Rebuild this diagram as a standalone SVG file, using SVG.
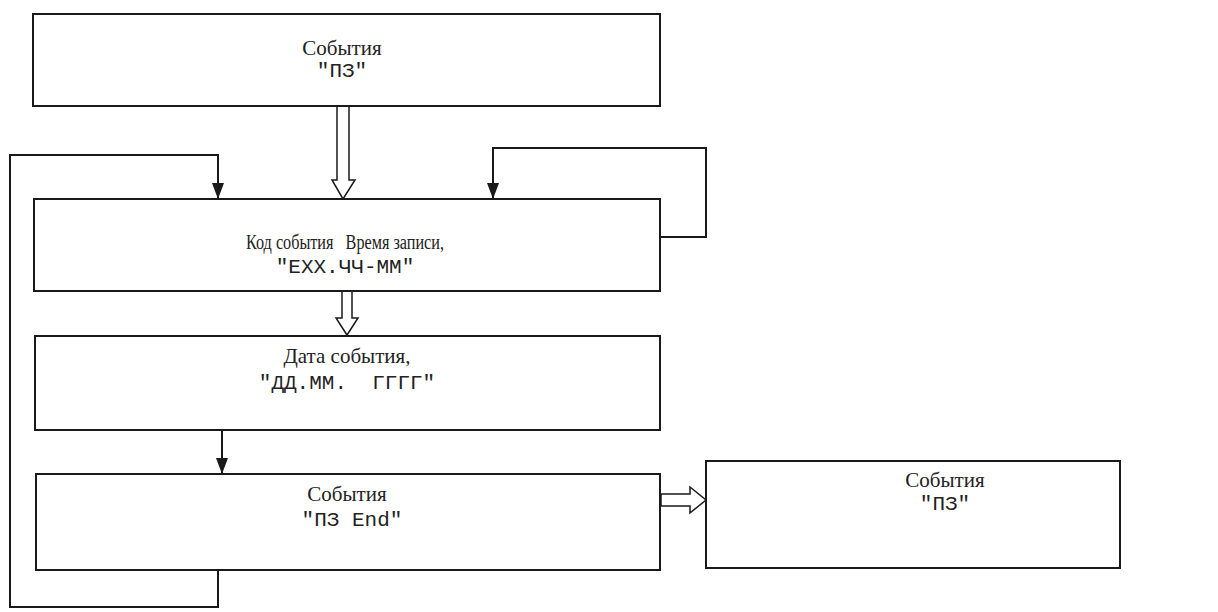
<svg xmlns="http://www.w3.org/2000/svg" width="1218" height="612" viewBox="0 0 1218 612">
<defs>
<style>
.box{fill:#fff;stroke:#1a1a1a;stroke-width:2}
.ln{fill:none;stroke:#1a1a1a;stroke-width:2}
.hol{fill:#fff;stroke:#1a1a1a;stroke-width:1.5}
.t{font-family:"Liberation Serif","Times New Roman",serif;font-size:21px;fill:#222;text-anchor:middle}
.s{font-size:20px}
.m{font-family:"Liberation Mono","Courier New",monospace;font-size:21px;fill:#222;text-anchor:middle}
</style>
<marker id="ah" viewBox="0 0 16 12" refX="16" refY="6" markerWidth="16" markerHeight="12" markerUnits="userSpaceOnUse" orient="auto">
<path d="M0,0 L16,6 L0,12 z" fill="#1a1a1a"/>
</marker>
</defs>
<rect width="1218" height="612" fill="#fff"/>
<g id="connectors">
<polyline class="ln" points="218,570 218,607 10,607 10,155 218,155 218,199" marker-end="url(#ah)"/>
<polyline class="ln" points="660,237 706,237 706,148 493,148 493,199" marker-end="url(#ah)"/>
<line class="ln" x1="222" y1="430" x2="222" y2="474" marker-end="url(#ah)"/>
<path class="hol" d="M337,106 V180 H332 L343,199 L355,180 H349 V106 z"/>
<path class="hol" d="M342,291 V318 H336 L347,335 L358,318 H352 V291 z"/>
<path class="hol" d="M661,494 H690 V487 L706,500 L690,513 V506 H661 z"/>
</g>
<g id="n1">
<rect class="box" x="33" y="14" width="627" height="92"/>
<text class="t" x="342" y="55">События</text>
<text class="m" x="342" y="77">"ПЗ"</text>
</g>
<g id="n2">
<rect class="box" x="34" y="199" width="626" height="92"/>
<text class="t s" x="345" y="249" textLength="198" lengthAdjust="spacingAndGlyphs">Код события&#160;&#160;&#160;Время записи,</text>
<text class="m" x="345" y="273">"ЕХХ.ЧЧ-ММ"</text>
</g>
<g id="n3">
<rect class="box" x="35" y="336" width="625" height="94"/>
<text class="t" x="347" y="363">Дата события,</text>
<text class="m" x="347" y="389">"ДД.ММ.&#160;&#160;ГГГГ"</text>
</g>
<g id="n4">
<rect class="box" x="36" y="474" width="624" height="96"/>
<text class="t" x="347" y="501">События</text>
<text class="m" x="352" y="526">"ПЗ End"</text>
</g>
<g id="n5">
<rect class="box" x="706" y="461" width="414" height="107"/>
<text class="t" x="945" y="487">События</text>
<text class="m" x="945" y="510">"ПЗ"</text>
</g>
</svg>
